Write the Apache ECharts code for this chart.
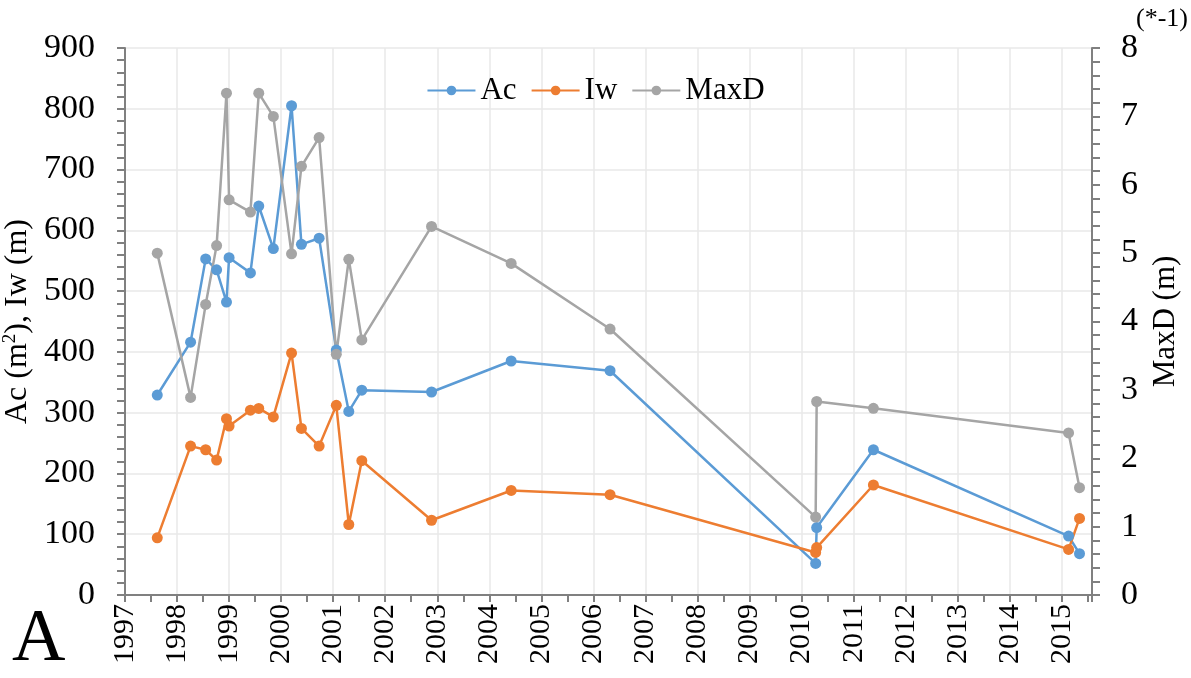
<!DOCTYPE html>
<html>
<head>
<meta charset="utf-8">
<script src="https://cdn.jsdelivr.net/npm/echarts@6/dist/echarts.min.js"></script>
<style>
html,body{margin:0;padding:0;background:#fff;}
#chart{width:1191px;height:678px;}
</style>
</head>
<body>
<div id="chart"></div>
<script>
// Survey dates (decimal years)
const dates = [1997.62, 1998.26, 1998.55, 1998.76, 1998.95, 1999.00, 1999.41, 1999.57, 1999.85, 2000.20, 2000.39, 2000.73, 2001.06, 2001.30, 2001.55, 2002.89, 2004.42, 2006.32, 2010.27, 2010.29, 2011.38, 2015.13, 2015.34];
// Ac (m2)
const acValues = [329, 416, 553, 535, 482, 555, 530, 640, 570, 805, 577, 587, 403, 302, 337, 334, 385, 369, 52, 111, 239, 97, 68];
// Iw (m)
const iwValues = [94, 245, 239, 222, 290, 278, 304, 307, 293, 398, 274, 245, 312, 116, 221, 123, 172, 165, 70, 78, 181, 75, 126];
// MaxD (m, *-1)
const maxdValues = [5.00, 2.89, 4.25, 5.11, 7.34, 5.78, 5.60, 7.34, 7.00, 4.99, 6.27, 6.69, 3.52, 4.91, 3.73, 5.39, 4.85, 3.89, 1.14, 2.83, 2.73, 2.37, 1.57];
const seriesNames = ['Ac', 'Iw', 'MaxD'];
const colors = ['#5b9bd5', '#ed7d31', '#a5a5a5'];

const font = 'Liberation Serif';
const axisGray = '#808080';
const gridGray = '#e8e8e8';

function pairs(vals){ return dates.map((d,i)=>[d, vals[i]]); }

const chart = echarts.init(document.getElementById('chart'));
const mkSeries = (name, vals, color, yIdx) => ({
  name: name, type: 'line', yAxisIndex: yIdx, data: pairs(vals),
  symbol: 'circle', symbolSize: 11, showSymbol: true,
  lineStyle: {color: color, width: 2.5},
  itemStyle: {color: color},
  animation: false
});

chart.setOption({
  animation: false,
  backgroundColor: '#fff',
  grid: {left: 125, right: 99, top: 48, bottom: 83, outerBoundsMode: 'none', containLabel: false},
  legend: {
    top: 70, left: 'center',
    data: seriesNames,
    itemWidth: 48, itemHeight: 12, itemGap: 14,
    textStyle: {fontFamily: font, fontSize: 31, color: '#000'}
  },
  xAxis: {
    type: 'value', min: 1997, max: 2015.58, interval: 1,
    axisLine: {show: true, lineStyle: {color: axisGray, width: 2}},
    axisTick: {show: true, length: 7, lineStyle: {color: axisGray, width: 2}},
    minorTick: {show: true, splitNumber: 2, length: 7, lineStyle: {color: axisGray, width: 2}},
    splitLine: {show: true, lineStyle: {color: gridGray, width: 1.5}},
    axisLabel: {
      rotate: 90, margin: 9, fontFamily: font, fontSize: 30, color: '#000',
      formatter: v => (Math.abs(v - Math.round(v)) < 1e-6 ? String(Math.round(v)) : '')
    }
  },
  yAxis: [{
    type: 'value', min: 0, max: 900, interval: 100, position: 'left',
    name: 'Ac (m{sup|2}), Iw (m)', nameLocation: 'middle', nameGap: 90,
    nameTextStyle: {fontFamily: font, fontSize: 32, color: '#000',
      rich: {sup: {fontFamily: font, fontSize: 19, color: '#000', verticalAlign: 'top', padding: [0,0,14,0]}}},
    axisLine: {show: true, lineStyle: {color: axisGray, width: 2}},
    axisTick: {show: true, length: 8, lineStyle: {color: axisGray, width: 2}},
    minorTick: {show: true, splitNumber: 5, length: 8, lineStyle: {color: axisGray, width: 2}},
    splitLine: {show: true, lineStyle: {color: gridGray, width: 1.5}},
    axisLabel: {margin: 30, fontFamily: font, fontSize: 34, color: '#000'}
  }, {
    type: 'value', min: 0, max: 8, interval: 1, position: 'right',
    name: 'MaxD (m)', nameLocation: 'middle', nameGap: 58,
    nameTextStyle: {fontFamily: font, fontSize: 31, color: '#000'},
    axisLine: {show: true, lineStyle: {color: axisGray, width: 2}},
    axisTick: {show: true, length: 8, lineStyle: {color: axisGray, width: 2}},
    minorTick: {show: true, splitNumber: 5, length: 8, lineStyle: {color: axisGray, width: 2}},
    splitLine: {show: false},
    axisLabel: {margin: 29, fontFamily: font, fontSize: 34, color: '#000'}
  }],
  graphic: [
    {type: 'text', left: 1136, top: 6, style: {text: '(*-1)', fontFamily: font, fontSize: 26, fill: '#000'}},
    {type: 'text', left: 12, top: 604, style: {text: 'A', fontFamily: font, fontSize: 74, fill: '#000'}}
  ],
  series: [
    mkSeries('Ac', acValues, colors[0], 0),
    mkSeries('Iw', iwValues, colors[1], 0),
    mkSeries('MaxD', maxdValues, colors[2], 1)
  ]
});
</script>
</body>
</html>
